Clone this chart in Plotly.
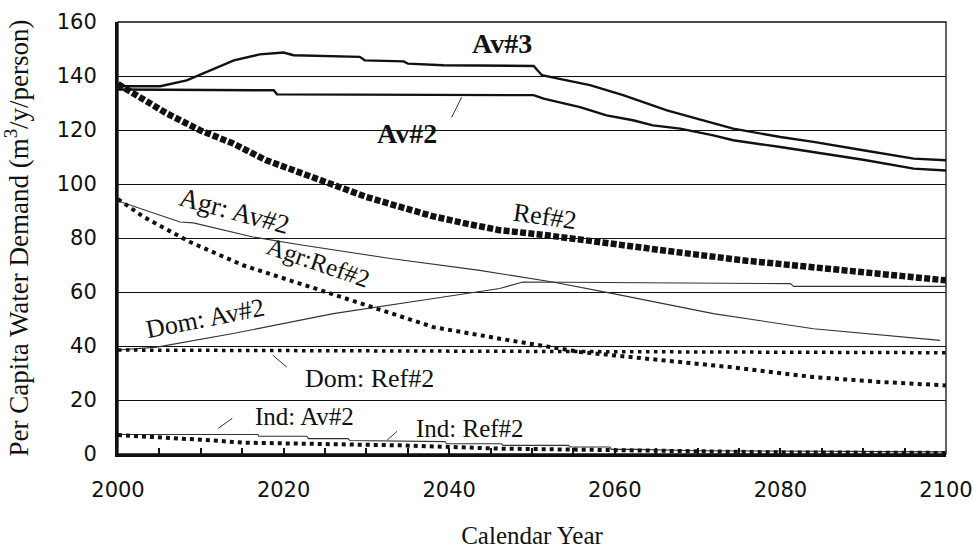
import plotly.graph_objects as go

# ---------------- data ----------------
av3_years = [2000, 2005.1, 2008.3, 2010.7, 2014.0, 2017.1, 2020.0, 2021.2, 2029.2, 2029.8,
             2034.5, 2035.0, 2039.3, 2050.2, 2051.2, 2054.2, 2057.0, 2061.0, 2063.9, 2066.3,
             2069.9, 2074.3, 2080.0, 2084.0, 2090.0, 2096.1, 2100]
av3_values = [136.2, 136.2, 138.4, 141.5, 145.8, 148.0, 148.7, 147.7, 147.1, 145.8,
              145.4, 144.6, 144.0, 143.7, 140.3, 138.4, 136.6, 132.9, 129.8, 127.3,
              124.2, 120.5, 117.4, 115.6, 112.5, 109.4, 108.8]

av2_years = [2000, 2018.8, 2019.2, 2043.7, 2050.2, 2051.4, 2053.8, 2055.8, 2059.0, 2062.2,
             2064.6, 2067.9, 2071.9, 2074.3, 2080.0, 2084.0, 2090.0, 2096.1, 2100]
av2_values = [135.0, 134.7, 133.2, 133.1, 132.9, 131.6, 129.8, 128.5, 125.4, 123.6,
              121.7, 120.5, 118.0, 116.2, 113.7, 111.9, 109.0, 105.7, 105.0]

ref2_years = [2000, 2003.1, 2005.9, 2009.9, 2013.9, 2017.9, 2022.0, 2026.0, 2030.0, 2034.1,
              2038.1, 2042.1, 2046.1, 2051.8, 2059.8, 2067.9, 2075.9, 2084.0, 2092.0, 2100]
ref2_values = [137.0, 131.0, 126.1, 119.9, 115.0, 108.8, 104.4, 99.5, 95.2, 91.5,
               88.0, 85.3, 82.9, 81.0, 77.6, 74.6, 71.6, 69.0, 66.6, 64.3]

agr_av2_years = [2000, 2003.9, 2007.5, 2009.1, 2016.3, 2021.6, 2027.2, 2032.9, 2043.7,
                 2052.5, 2059.8, 2071.9, 2084.0, 2099.3]
agr_av2_values = [93.7, 89.6, 85.9, 85.6, 80.4, 77.7, 75.2, 72.4, 68.0,
                  63.7, 59.4, 52.0, 46.4, 42.1]

agr_ref2_years = [2000, 2003.1, 2008.7, 2015.1, 2023.2, 2030.0, 2038.1, 2046.1, 2049.8,
                  2055.8, 2063.9, 2073.9, 2084.0, 2092.0, 2100]
agr_ref2_values = [94.4, 87.8, 78.5, 69.9, 61.9, 55.1, 47.0, 42.7, 40.9,
                   37.8, 35.3, 32.2, 28.5, 26.7, 25.4]

dom_av2_years = [2000, 2004.7, 2013.9, 2026.0, 2038.1, 2046.1, 2048.9, 2081.2, 2081.6, 2100]
dom_av2_values = [38.5, 39.6, 44.6, 52.0, 57.6, 61.3, 63.7, 63.1, 62.1, 62.1]

dom_ref2_years = [2000, 2050, 2100]
dom_ref2_values = [38.5, 38.0, 37.5]

ind_av2_years = [2000, 2016.9, 2017.0, 2022.8, 2023.0, 2027.8, 2028.0, 2039.5, 2039.7,
                 2046.3, 2046.5, 2054.4, 2054.6, 2059.4, 2059.6, 2062.6, 2070, 2100]
ind_av2_values = [7.2, 7.2, 6.6, 6.6, 5.7, 5.7, 5.0, 4.6, 3.8,
                  3.8, 3.2, 3.2, 2.6, 2.6, 1.7, 1.7, 1.2, 0.8]

ind_ref2_years = [2000, 2007.1, 2011.1, 2015.1, 2023.2, 2031.2, 2034.1, 2046.1, 2058.2,
                  2070.3, 2080, 2100]
ind_ref2_values = [7.0, 5.9, 5.1, 4.2, 3.8, 3.5, 3.2, 2.0, 1.4, 0.8, 0.6, 0.4]

x_ticks = [2000, 2020, 2040, 2060, 2080, 2100]
y_ticks = [0, 20, 40, 60, 80, 100, 120, 140, 160]

# ---------------- figure ----------------
SERIF = "Liberation Serif, Times New Roman, serif"
SANS = "DejaVu Sans, Arial, sans-serif"
BLACK = "#111111"

fig = go.Figure()

def add_line(x, y, name, width, color=BLACK, dash="solid"):
    fig.add_trace(go.Scatter(x=x, y=y, name=name, mode="lines",
                             line=dict(color=color, width=width, dash=dash),
                             showlegend=False, hoverinfo="skip"))

add_line(av3_years, av3_values, "Av#3", 2.4)
add_line(av2_years, av2_values, "Av#2", 2.4)
add_line(agr_av2_years, agr_av2_values, "Agr: Av#2", 1.1, "#333333")
add_line(dom_av2_years, dom_av2_values, "Dom: Av#2", 1.1, "#333333")
add_line(ind_av2_years, ind_av2_values, "Ind: Av#2", 1.1, "#333333")
add_line(dom_ref2_years, dom_ref2_values, "Dom: Ref#2", 3.5, BLACK, "3.5px,4.5px")
add_line(agr_ref2_years, agr_ref2_values, "Agr: Ref#2", 4, BLACK, "4px,4.3px")
add_line(ind_ref2_years, ind_ref2_values, "Ind: Ref#2", 4, BLACK, "4px,4px")
add_line(ref2_years, ref2_values, "Ref#2", 6.5, BLACK, "6px,2.3px")

# ---------------- labels ----------------
labels = [
    # text, x, y, size, bold, angle
    ("Av#3", 2046.4, 152.1, 28, True, 0),
    ("Av#2", 2034.9, 118.8, 28, True, 0),
    ("Ref#2", 2051.6, 87.8, 26, False, 8),
    ("Agr: Av#2", 2014.1, 89.9, 27, False, 15),
    ("Agr:Ref#2", 2024.2, 71.0, 25, False, 19),
    ("Dom: Av#2", 2010.5, 50.3, 26, False, -11),
    ("Dom: Ref#2", 2030.4, 28.0, 26, False, 0),
    ("Ind: Av#2", 2022.5, 14.0, 25, False, 0),
    ("Ind: Ref#2", 2042.5, 9.5, 25, False, 0),
]
for text, lx, ly, size, bold, ang in labels:
    fig.add_annotation(x=lx, y=ly, text=f"<b>{text}</b>" if bold else text,
                       showarrow=False, textangle=ang,
                       xanchor="center", yanchor="middle",
                       font=dict(family=SERIF, size=size, color=BLACK))

# leader lines from labels to their curves
leaders = [
    (2040.3, 124.7, 2041.5, 132.1),
    (2018.7, 36.6, 2020.4, 32.1),
    (2012.1, 9.5, 2013.8, 13.2),
    (2032.5, 5.1, 2033.7, 8.4),
]
for x0, y0, x1, y1 in leaders:
    fig.add_shape(type="line", x0=x0, y0=y0, x1=x1, y1=y1, xref="x", yref="y",
                  line=dict(color="#333333", width=1))

# thin frame on top / right
fig.add_shape(type="rect", xref="paper", yref="paper", x0=0, y0=0, x1=1, y1=1,
              line=dict(color=BLACK, width=1.3), layer="below")

fig.update_layout(
    width=973, height=549,
    margin=dict(l=118, r=27, t=22, b=95),
    paper_bgcolor="white", plot_bgcolor="white",
    showlegend=False,
)
fig.update_xaxes(
    range=[2000, 2100], tickmode="array", tickvals=x_ticks,
    ticktext=[str(v) for v in x_ticks],
    ticks="inside", ticklen=6, tickwidth=1.5, tickcolor=BLACK,
    minor=dict(dtick=5, tick0=2000, ticks="inside", ticklen=6, tickwidth=1.5, tickcolor=BLACK),
    showgrid=False, zeroline=False, automargin=False,
    showline=True, linewidth=2.5, linecolor=BLACK,
    tickfont=dict(family=SANS, size=21, color=BLACK),
    ticklabelstandoff=15,
    title=dict(text="Calendar Year", font=dict(family=SERIF, size=25, color=BLACK), standoff=26),
)
fig.update_yaxes(
    range=[0, 160], tickmode="array", tickvals=y_ticks,
    ticks="", showgrid=True, gridcolor=BLACK, gridwidth=1, automargin=False,
    zeroline=False, showline=True, linewidth=3, linecolor=BLACK,
    tickfont=dict(family=SANS, size=21, color=BLACK),
    ticklabelstandoff=14,
    title=dict(text="Per Capita Water Demand (m<sup>3</sup>/y/person)",
               font=dict(family=SERIF, size=27, color=BLACK), standoff=24),
)

fig.write_html("out.html")
